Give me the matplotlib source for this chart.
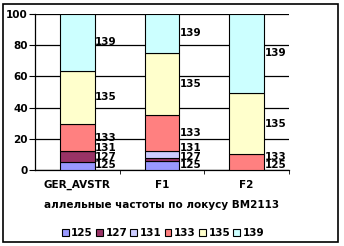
import numpy as np
import matplotlib
matplotlib.use('Agg')
import matplotlib.pyplot as plt
from matplotlib.patches import Rectangle

plt.rcParams['font.family'] = ['DejaVu Sans']
plt.rcParams['font.weight'] = 'bold'

# data: allele frequencies (%) per population
groups = ['GER_AVSTR', 'F1', 'F2']
alleles = ['125', '127', '131', '133', '135', '139']
freq_125 = [5.0, 6.0, 0.0]
freq_127 = [7.0, 2.0, np.nan]
freq_131 = [0.0, 4.0, np.nan]
freq_133 = [17.5, 23.5, 10.0]
freq_135 = [34.0, 39.5, 39.5]
freq_139 = [36.5, 25.0, 50.5]
series = [freq_125, freq_127, freq_131, freq_133, freq_135, freq_139]
colors = ['#9999FF', '#993366', '#CCCCFF', '#FF8080', '#FFFFCC', '#CCFFFF']

FS = 7.5
W, H = 344, 246
fig = plt.figure(figsize=(W / 100, H / 100), dpi=100)
fig.patches.append(Rectangle((3 / W, 4 / H), 335 / W, 238 / H, transform=fig.transFigure,
                             fill=False, edgecolor='black', linewidth=1.2))
ax = fig.add_axes([35 / W, (H - 170) / H, (289 - 35) / W, (170 - 14) / H])

x = np.arange(len(groups))
bw = 0.41
bottom = np.zeros(len(groups))
for vals, c, name in zip(series, colors, alleles):
    v = np.nan_to_num(np.array(vals, dtype=float))
    ax.bar(x, v, bw, bottom=bottom, color=c, edgecolor='black', linewidth=0.8,
           label=name, zorder=3)
    bottom += v

# data labels to the right of each bar, pushed up when crowded
gap = 5.5
for i in range(len(groups)):
    cum = 0.0
    prev = -np.inf
    for vals, name in zip(series, alleles):
        v = vals[i]
        if np.isnan(v):
            continue
        yc = max(cum + v / 2, prev + gap, 3.0)
        ax.text(x[i] + bw / 2 + 0.005, yc, name, ha='left', va='center',
                fontsize=FS, fontweight='bold', zorder=4)
        prev = yc
        cum += v

ax.set_xlim(-0.5, 2.5)
ax.set_ylim(0, 100)
ax.set_yticks([0, 20, 40, 60, 80, 100])
ax.yaxis.grid(True, color='black', linewidth=0.9, zorder=0)
ax.set_xticks(x)
ax.set_xticklabels(groups, fontsize=FS, fontweight='bold')
ax.set_xticks([0.5, 1.5, 2.5], minor=True)
ax.tick_params(axis='x', which='major', length=0, pad=7)
ax.tick_params(axis='x', which='minor', length=3, direction='out')
ax.tick_params(axis='y', length=4, direction='out', labelsize=FS, pad=1)
for t in ax.get_yticklabels():
    t.set_fontweight('bold')
for s in ['top', 'right']:
    ax.spines[s].set_visible(False)
ax.spines['left'].set_linewidth(0.9)
ax.spines['bottom'].set_linewidth(0.9)
ax.set_xlabel('аллельные частоты по локусу BM2113', fontsize=FS, fontweight='bold', labelpad=7)

leg = fig.legend(loc='center', bbox_to_anchor=(163 / W, (H - 233) / H), ncol=6, frameon=False,
                 handlelength=0.65, handleheight=0.65, handletextpad=0.25,
                 columnspacing=0.3, borderpad=0, prop={'weight': 'bold', 'size': FS})

fig.savefig('out.png', dpi=100)
